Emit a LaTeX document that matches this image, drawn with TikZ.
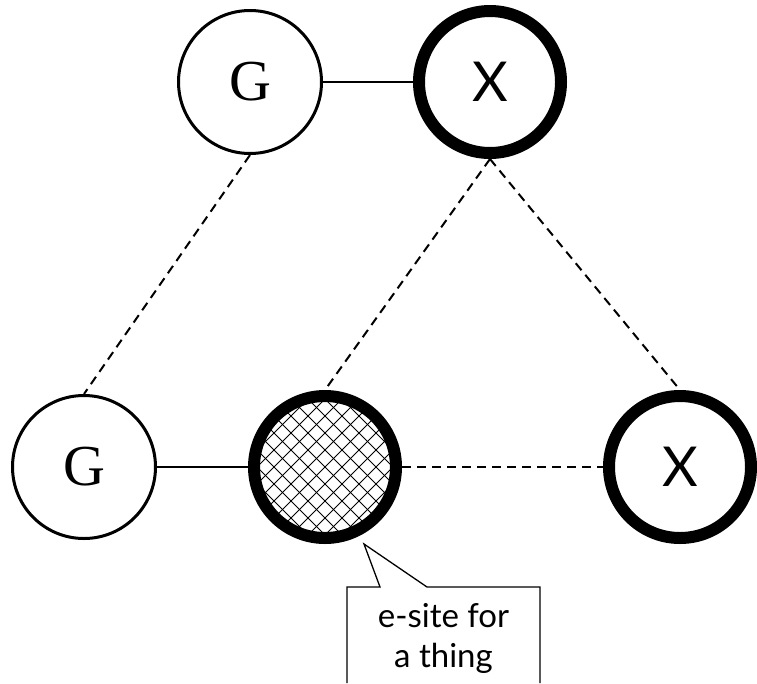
\documentclass[tikz,border=0pt]{standalone}
\usepackage{fontspec}
\newfontfamily\serifG{Liberation Serif}
\newfontfamily\sansX{Lato}
\begin{document}
\begin{tikzpicture}[x=1pt,y=-1pt,
  vert/.style={circle, draw, inner sep=0pt, minimum size=143pt, line width=3pt},
  heavy/.style={vert, line width=12pt, minimum size=142pt},
  gfont/.style={font=\serifG\fontsize{58}{60}\selectfont},
  xfont/.style={font=\sansX\fontsize{55}{60}\selectfont},
  link/.style={line width=2pt},
  dlink/.style={line width=2pt, dash pattern=on 9pt off 6pt},
  hatch/.style={path picture={
    \begin{scope}[shift={(path picture bounding box.center)}]
      \foreach \c in {-221,-204,...,221} {
        \draw[line width=0.9pt] (\c-100,-100) -- (\c+100,100);
        \draw[line width=0.9pt] (\c-100,100) -- (\c+100,-100);
      }
    \end{scope}}},
  notetext/.style={font=\sansX\fontsize{33}{40}\selectfont, align=center, inner sep=0pt}
]
\useasboundingbox (0,0) rectangle (757,683);

\node[vert, gfont] (g1) at (250,82) {G};
\node[heavy, xfont] (x1) at (490,82) {X};
\node[vert, gfont] (g2) at (84,467) {G};
\node[heavy, hatch] (h) at (325,467) {};
\node[heavy, xfont] (x2) at (680,467) {X};

\draw[link] (g1) -- (x1);
\draw[link] (g2) -- (h);
\draw[dlink] (h) -- (x2);
\draw[dlink] (g1.south) -- (g2.north);
\draw[dlink] (x1.south) -- (h.north);
\draw[dlink] (x1.south) -- (x2.north);

\node[notetext] (note) at (443.5,638) {e-site for\\a thing};
\draw[line width=1.3pt, line join=miter] (347,683) -- (347,587) -- (380,587) -- (364,544) -- (427,587) -- (540,587) -- (540,683);
\end{tikzpicture}
\end{document}
